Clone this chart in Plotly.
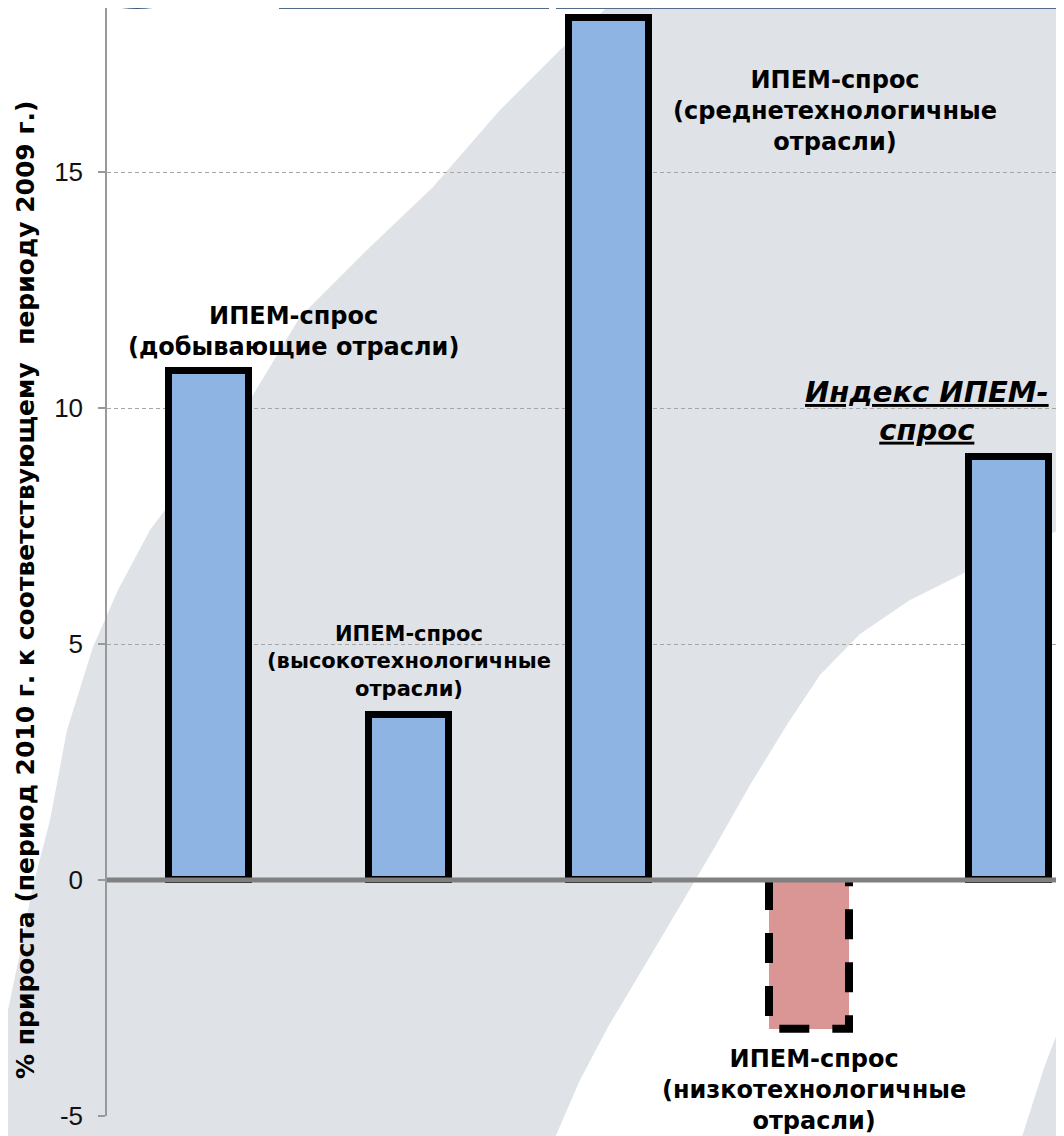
import plotly.graph_objects as go

# ---------------- data ----------------
categories = [
    "ИПЕМ-спрос (добывающие отрасли)",
    "ИПЕМ-спрос (высокотехнологичные отрасли)",
    "ИПЕМ-спрос (среднетехнологичные отрасли)",
    "ИПЕМ-спрос (низкотехнологичные отрасли)",
    "Индекс ИПЕМ-спрос",
]
values = [10.78, 3.49, 18.27, -3.15, 8.96]
label_texts = [
    "ИПЕМ-спрос<br>(добывающие отрасли)",
    "ИПЕМ-спрос<br>(высокотехнологичные<br>отрасли)",
    "ИПЕМ-спрос<br>(среднетехнологичные<br>отрасли)",
    "ИПЕМ-спрос<br>(низкотехнологичные<br>отрасли)",
    "<i><u>Индекс ИПЕМ-</u></i><br><i><u>спрос</u></i>",
]
y_ticks = [-5, 0, 5, 10, 15]
y_title = "% прироста (период 2010 г. к соответствующему  периоду 2009 г.)"

# ---------------- style / layout ----------------
OFF = 8  # page body margin of the browser
W, H = 1064 - OFF, 1136 - OFF
ML, MR, MT, MB = 107 - OFF, 0, 0, 20
PW, PH = W - ML - MR, H - MT - MB

BLUE = "#8EB4E3"
RED = "#D99694"
BAR_W = 0.4
LINE_W = 7
bar_colors = [RED if v < 0 else BLUE for v in values]
outline_w = [0 if v < 0 else LINE_W for v in values]

label_pos = [(0.42, 11.62), (1.0, 4.63), (3.13, 16.3), (3.025, -4.45), (3.59, 9.93)]
label_size = [24, 21, 24, 24, 29]

BOLD = "DejaVu Sans"


def px(x):
    # window pixel -> paper x
    return (x - OFF - ML) / PW


def py(y):
    # window pixel -> paper y
    return (MT + PH - (y - OFF)) / PH


def path(points):
    return "M " + " L ".join(f"{px(a):.5f},{py(b):.5f}" for a, b in points) + " Z"


x_idx = list(range(len(values)))

fig = go.Figure()

fig.add_trace(go.Bar(
    x=x_idx, y=values, width=BAR_W,
    marker=dict(color=bar_colors, line=dict(color="black", width=outline_w)),
    hovertext=categories, hoverinfo="text+y", showlegend=False,
))

# dashed outline for negative bars
for i, v in enumerate(values):
    if v < 0:
        x0, x1 = i - BAR_W / 2, i + BAR_W / 2
        fig.add_trace(go.Scatter(
            x=[x0, x0, x1, x1], y=[0, v, v, 0], mode="lines",
            line=dict(color="black", width=8, dash="30px,23px"),
            hoverinfo="skip", showlegend=False,
        ))

shapes = []
GRAY_BG = "#DFE2E7"
left_edge = [(615, 0), (560, 50), (500, 110), (433, 187), (367, 250), (300, 317),
             (250, 400), (195, 470), (150, 530), (118, 590), (93, 647), (67, 730),
             (50, 820), (32, 890), (20, 953), (8, 1010), (0, 1053)]
shapes.append(dict(type="path", xref="paper", yref="paper", layer="below",
                   path=path(left_edge + [(0, 1140), (1070, 1140), (1070, 0)]),
                   fillcolor=GRAY_BG, line=dict(width=0)))
white_sw = [(1070, 526), (1010, 550), (964, 573), (910, 600), (860, 634), (820, 675),
            (788, 723), (750, 785), (716, 845), (680, 906), (645, 965), (608, 1027),
            (580, 1080), (554, 1140), (1021, 1140), (1045, 1065), (1070, 1000)]
shapes.append(dict(type="path", xref="paper", yref="paper", layer="below",
                   path=path(white_sw), fillcolor="#FFFFFF", line=dict(width=0)))
BAND = "#536A8A"
shapes.append(dict(type="rect", xref="paper", yref="paper", layer="above",
                   x0=px(279), x1=px(549), y0=py(9), y1=py(-2),
                   fillcolor=BAND, line=dict(width=0)))
shapes.append(dict(type="rect", xref="paper", yref="paper", layer="above",
                   x0=px(556), x1=px(1070), y0=py(9), y1=py(-2),
                   fillcolor=BAND, line=dict(width=0)))
shapes.append(dict(type="circle", xref="paper", yref="paper", layer="above",
                   x0=px(12), x1=px(262), y0=py(9), y1=py(-241),
                   fillcolor="#3F5A7C", line=dict(width=0)))
shapes.append(dict(type="line", xref="paper", yref="y", layer="above",
                   x0=0, x1=1, y0=0, y1=0, line=dict(color="#808080", width=5)))

annotations = []
for (ax, ay), txt, sz in zip(label_pos, label_texts, label_size):
    annotations.append(dict(
        x=ax, y=ay, xref="x", yref="y", text=txt, showarrow=False,
        xanchor="center", yanchor="middle", align="center",
        font=dict(family=BOLD, size=sz, color="black", weight="bold"),
    ))
annotations.append(dict(
    x=px(25), y=py(590), xref="paper", yref="paper", text=y_title,
    textangle=-90, showarrow=False, xanchor="center", yanchor="middle",
    font=dict(family=BOLD, size=25, color="black", weight="bold"),
))

# y-range: -5 at window y 1116, 0 at 880 => 47.2 px per unit
y_top = (880 - OFF) / 47.2

fig.update_layout(
    width=W, height=H, autosize=False,
    margin=dict(l=ML, r=MR, t=MT, b=MB, pad=0),
    paper_bgcolor="white", plot_bgcolor="rgba(0,0,0,0)",
    shapes=shapes, annotations=annotations, showlegend=False,
    bargap=0,
)
fig.update_xaxes(range=[-0.51, 4.275], showticklabels=False, showgrid=False,
                 zeroline=False, showline=False, ticks="")
fig.update_yaxes(range=[-5, y_top], tickvals=y_ticks, ticktext=[str(t) for t in y_ticks],
                 showgrid=True, gridcolor="#A6A6A6", gridwidth=1, griddash="4px,3px",
                 zeroline=False, showline=True, linecolor="#999999", linewidth=1.5,
                 ticks="outside", ticklen=7, tickcolor="#999999", tickwidth=1.5,
                 ticklabelstandoff=10,
                 tickfont=dict(family="Liberation Sans", size=26, color="#111111"))

fig.write_html("out.html")
